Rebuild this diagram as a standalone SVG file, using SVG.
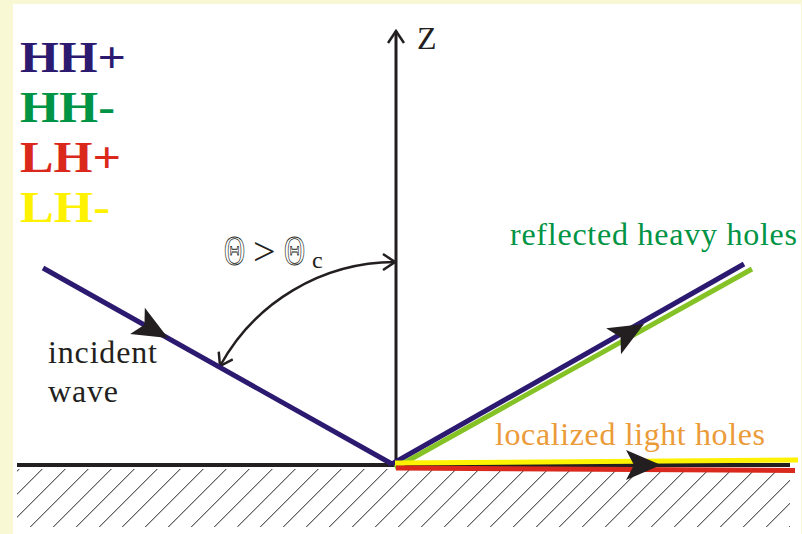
<svg xmlns="http://www.w3.org/2000/svg" width="802" height="534" viewBox="0 0 802 534">
<defs>
<style>
.serif{font-family:"Liberation Serif","Times New Roman",serif}
.legend{font-family:"Liberation Serif","Times New Roman",serif;font-weight:bold;font-size:45px}
.lbl{font-family:"Liberation Serif","Times New Roman",serif;font-size:32px}
.ray{fill:none;stroke-width:5;stroke-linecap:butt}
.blk{stroke:#231f20;fill:none}
.head{fill:#231f20}
</style>
<clipPath id="hclip"><rect x="17" y="469" width="773" height="58"/></clipPath>
<marker id="vee" viewBox="-14 -9 16 18" refX="0" refY="0" markerWidth="16" markerHeight="18" markerUnits="userSpaceOnUse" orient="auto-start-reverse">
<path d="M-12,-8 L0,0 L-12,8" fill="none" stroke="#231f20" stroke-width="2.5"/>
</marker>
<path id="tri" d="M0,0 L-35,-15 L-27,0 L-35,15 Z"/>
</defs>
<rect x="0" y="0" width="802" height="534" fill="#f8f8d5"/>
<rect x="13" y="4" width="788" height="530" fill="#ffffff"/>

<g id="hatching" clip-path="url(#hclip)" stroke="#231f20" stroke-width="1">
<path d="M-2.7,468 l-59,59 M20.3,468 l-59,59 M43.3,468 l-59,59 M66.3,468 l-59,59 M89.3,468 l-59,59 M112.3,468 l-59,59 M135.3,468 l-59,59 M158.3,468 l-59,59 M181.3,468 l-59,59 M204.3,468 l-59,59 M227.3,468 l-59,59 M250.3,468 l-59,59 M273.3,468 l-59,59 M296.3,468 l-59,59 M319.3,468 l-59,59 M342.3,468 l-59,59 M365.3,468 l-59,59 M388.3,468 l-59,59 M411.3,468 l-59,59 M434.3,468 l-59,59 M457.3,468 l-59,59 M480.3,468 l-59,59 M503.3,468 l-59,59 M526.3,468 l-59,59 M549.3,468 l-59,59 M572.3,468 l-59,59 M595.3,468 l-59,59 M618.3,468 l-59,59 M641.3,468 l-59,59 M664.3,468 l-59,59 M687.3,468 l-59,59 M710.3,468 l-59,59 M733.3,468 l-59,59 M756.3,468 l-59,59 M779.3,468 l-59,59 M802.3,468 l-59,59 M825.3,468 l-59,59 M848.3,468 l-59,59"/>
</g>

<g id="legend">
<text class="legend" x="20" y="72" fill="#2b1a6f" textLength="106" lengthAdjust="spacingAndGlyphs">HH+</text>
<text class="legend" x="20" y="122" fill="#009444" textLength="95" lengthAdjust="spacingAndGlyphs">HH-</text>
<text class="legend" x="20" y="172" fill="#da291c" textLength="101" lengthAdjust="spacingAndGlyphs">LH+</text>
<text class="legend" x="20" y="222" fill="#fff200" textLength="90" lengthAdjust="spacingAndGlyphs">LH-</text>
</g>

<g id="connectors">
<line id="surface" x1="17" y1="465" x2="790" y2="465" class="blk" stroke-width="4"/>
<line id="z-axis" x1="396" y1="465" x2="396" y2="31" class="blk" stroke-width="3" marker-end="url(#vee)"/>
<path id="angle-arc" d="M395,262 A200,200 0 0 0 220,366" class="blk" stroke-width="2.5" marker-start="url(#vee)" marker-end="url(#vee)"/>
<line id="incident" x1="43" y1="268" x2="392" y2="464" class="ray" stroke="#2b1a6f"/>
<line id="reflected-hh-plus" x1="392" y1="464" x2="744" y2="264" class="ray" stroke="#2b1a6f"/>
<line id="reflected-hh-minus" x1="395" y1="468" x2="752" y2="269" class="ray" stroke="#84c225"/>
<line id="lh-minus" x1="395" y1="463" x2="798" y2="460" class="ray" stroke="#fff200"/>
<line id="lh-plus" x1="396" y1="468" x2="795" y2="470.5" class="ray" stroke="#da291c"/>
<use href="#tri" class="head" transform="translate(168,338) rotate(29.3)"/>
<use href="#tri" class="head" transform="translate(644,324) rotate(-29.6)"/>
<use href="#tri" class="head" transform="translate(661,465)"/>
</g>

<g id="labels">
<text class="serif" x="417" y="49" font-size="32" fill="#231f20">Z</text>
<g fill="#ffffff" stroke="#231f20" stroke-width="0.9">
<text class="serif" font-size="43" transform="translate(224,265) scale(0.68,1)">Θ</text>
<text class="serif" font-size="43" transform="translate(284,265) scale(0.68,1)">Θ</text>
</g>
<text class="serif" x="253" y="265" font-size="40" fill="#231f20">&gt;</text>
<text class="serif" x="312" y="268" font-size="24" fill="#231f20">c</text>
<text class="lbl" x="48" y="363" fill="#231f20" textLength="109">incident</text>
<text class="lbl" x="48" y="402" fill="#231f20" textLength="70">wave</text>
<text class="lbl" x="510" y="245" fill="#009444" textLength="287">reflected heavy holes</text>
<text class="lbl" x="495" y="445" fill="#eb9b38" textLength="270">localized light holes</text>
</g>
</svg>
